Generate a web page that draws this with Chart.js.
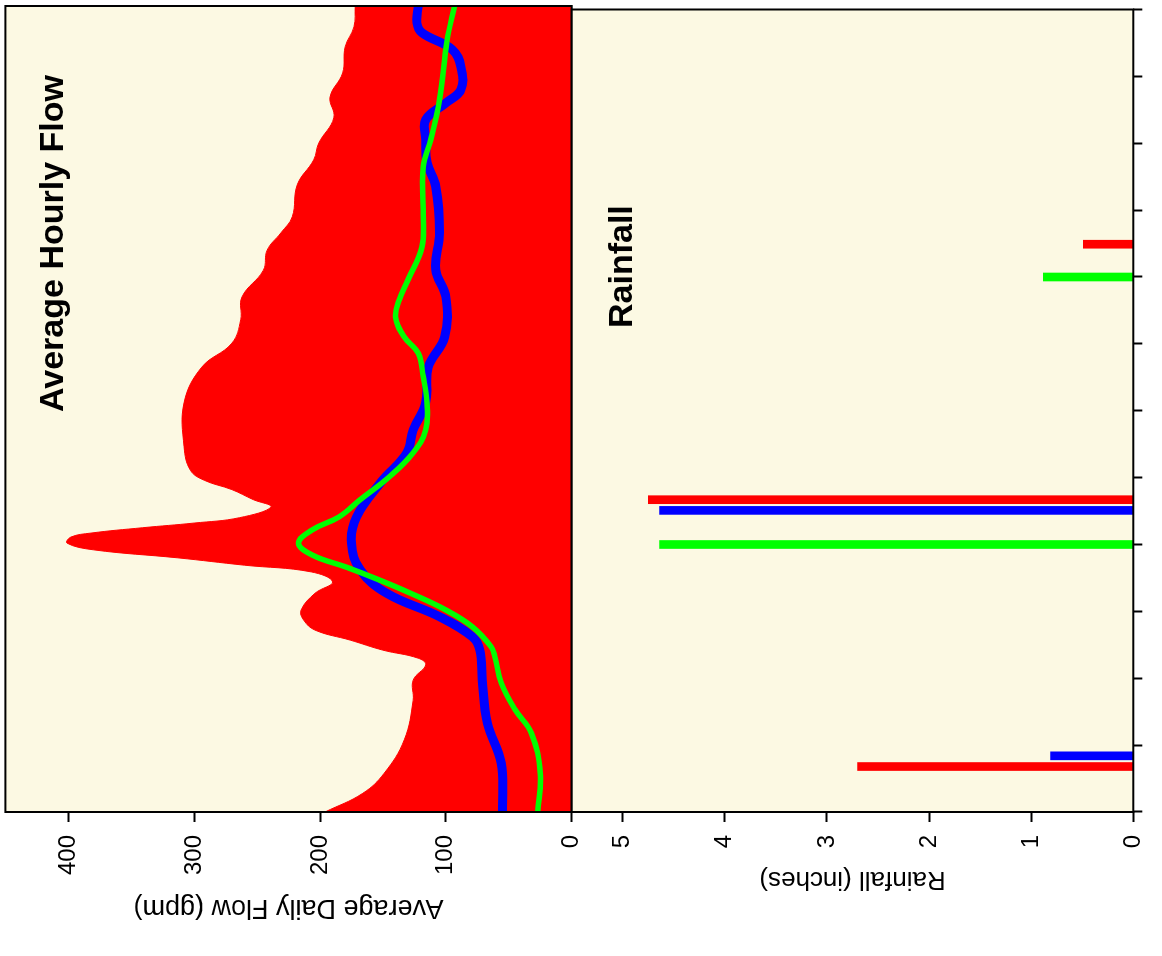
<!DOCTYPE html>
<html>
<head>
<meta charset="utf-8">
<script src="https://cdn.jsdelivr.net/npm/chart.js@4.4.1/dist/chart.umd.min.js"></script>
<style>
html,body{margin:0;padding:0;background:#ffffff;overflow:hidden;width:1162px;height:956px;}
#rot{position:absolute;left:0;top:0;width:956px;height:1162px;transform-origin:0 0;transform:translate(0px,956px) rotate(-90deg);}
#rot canvas{position:absolute;left:0;top:0;}
</style>
</head>
<body>
<div id="rot">
  <canvas id="flow" width="956" height="1162"></canvas>
  <canvas id="rain" width="956" height="1162"></canvas>
</div>
<script>
// ---------- tick values ----------
const timeTickValues = [0,1,2,3,4,5,6,7,8,9,10,11,12];
const flowTickValues = [0,100,200,300,400];
const rainTickValues = [0,1,2,3,4,5];

// ---------- average hourly flow (red area) ----------
const hourlyTime = [0.00,0.28,0.58,1.08,1.67,1.97,2.20,2.30,2.42,2.57,2.72,2.87,3.02,3.27,3.44,3.59,3.69,3.80,3.92,4.02,4.11,4.17,4.25,4.32,4.40,4.56,4.67,4.82,4.96,5.11,5.46,6.12,6.65,7.01,7.36,7.70,8.10,8.40,8.66,8.90,9.38,9.75,10.00,10.38,10.69,11.05,11.44,11.74,12.05];
const hourlyFlow = [196,166,149,133,126,126,116,122,150,176,204,213,215,204,190,207,260,313,380,401,398,382,341,300,264,239,253,270,292,303,308,308,294,270,263,262,245,242,231,222,218,205,201,189,192,182,180,173,172];

// ---------- green series ----------
const greenTime = [0.00,0.58,1.18,1.53,1.93,2.32,2.47,2.77,3.02,3.27,3.47,3.66,3.84,4.02,4.22,4.41,4.67,5.01,5.37,5.71,6.12,6.51,6.86,7.10,7.40,7.66,7.96,8.45,8.96,9.65,10.05,10.65,11.54,12.05];
const greenFlow = [27,25,32,45,56,61,64,79,100,128,153,179,206,217,206,185,168,145,126,116,115,118,122,133,140,137,130,119,118,118,112,105,99,93];

// ---------- blue series ----------
const blueTime = [0.00,0.73,1.33,1.97,2.42,2.62,2.92,3.27,3.62,4.02,4.41,4.92,5.37,5.71,6.12,6.65,7.10,7.70,8.11,8.66,9.35,9.71,10.05,10.35,10.60,10.80,11.14,11.40,11.65,11.80,12.05];
const blueFlow = [55,56,67,71,73,79,105,147,168,175,171,152,131,126,116,114,101,100,108,105,108,115,116,116,100,88,88,95,119,123,122];

// ---------- rainfall ----------
const rainRedTime = [0.68,4.67,8.49];
const rainRed = [2.70,4.75,0.49];
const rainBlueTime = [0.84,4.51];
const rainBlue = [0.81,4.64];
const rainGreenTime = [4.00,8.00];
const rainGreen = [4.64,0.88];

const pts = (xs, ys) => xs.map((x, i) => ({x: x, y: ys[i]}));
const FONT = "'Liberation Sans', Arial, Helvetica, sans-serif";
Chart.defaults.font.family = FONT;
Chart.defaults.color = '#000000';

const panelPlugin = {
  id: 'panel',
  beforeDraw(chart, args, opts) {
    const a = chart.chartArea, ctx = chart.ctx;
    ctx.save();
    ctx.fillStyle = opts.fill;
    ctx.fillRect(a.left, a.top, a.right - a.left, a.bottom - a.top);
    ctx.restore();
  },
  afterDraw(chart, args, opts) {
    const a = chart.chartArea, ctx = chart.ctx;
    ctx.save();
    ctx.strokeStyle = '#000000';
    ctx.lineWidth = 2;
    ctx.strokeRect(a.left, a.top, a.right - a.left, a.bottom - a.top);
    if (opts.text) {
      ctx.font = opts.font;
      ctx.fillStyle = '#000000';
      ctx.textAlign = 'left';
      ctx.textBaseline = 'alphabetic';
      ctx.fillText(opts.text, a.left + opts.dx, a.top + opts.dy);
    }
    ctx.restore();
  }
};

const CREAM = '#FCF9E3';
const tickFont = {family: FONT, size: 24};
const TENSION = 0.4;

new Chart(document.getElementById('flow'), {
  type: 'line',
  data: {
    datasets: [
      {label: 'Green', data: pts(greenTime, greenFlow), borderColor: '#00FF00', borderWidth: 5.5, pointRadius: 0, fill: false, tension: TENSION, borderCapStyle: 'round', borderJoinStyle: 'round', clip: 0},
      {label: 'Blue', data: pts(blueTime, blueFlow), borderColor: '#0000FF', borderWidth: 9, pointRadius: 0, fill: false, tension: TENSION, borderCapStyle: 'round', borderJoinStyle: 'round', clip: 0},
      {label: 'Average Hourly Flow', data: pts(hourlyTime, hourlyFlow), borderColor: '#FF0000', backgroundColor: '#FF0000', borderWidth: 1, pointRadius: 0, fill: 'origin', tension: TENSION, clip: 0}
    ]
  },
  options: {
    responsive: false,
    animation: false,
    devicePixelRatio: 1,
    layout: {padding: {left: 32, right: 6, top: 5.4, bottom: 590.3}},
    plugins: {
      legend: {display: false},
      tooltip: {enabled: false},
      panel: {fill: CREAM, text: 'Average Hourly Flow', font: "bold 34px " + FONT, dx: 400, dy: 57.6}
    },
    scales: {
      x: {type: 'linear', min: 0, max: 12.05, display: false},
      y: {
        type: 'linear', min: 0, max: 450, position: 'left',
        afterBuildTicks: s => { s.ticks = flowTickValues.map(v => ({value: v})); },
        afterFit: s => { s.width = 112; s.paddingTop = 0; s.paddingBottom = 0; },
        grid: {drawOnChartArea: false, drawTicks: true, tickLength: 10, tickColor: '#000000', tickWidth: 2},
        border: {display: false},
        ticks: {color: '#000000', font: tickFont, padding: 13},
        title: {display: true, text: 'Average Daily Flow (gpm)', color: '#000000', font: {family: FONT, size: 27}, padding: 0}
      }
    }
  },
  plugins: [panelPlugin]
});

new Chart(document.getElementById('rain'), {
  type: 'bar',
  data: {
    datasets: [
      {label: 'Red', data: pts(rainRedTime, rainRed), backgroundColor: '#FF0000', borderWidth: 0},
      {label: 'Blue', data: pts(rainBlueTime, rainBlue), backgroundColor: '#0000FF', borderWidth: 0},
      {label: 'Green', data: pts(rainGreenTime, rainGreen), backgroundColor: '#00FF00', borderWidth: 0}
    ]
  },
  options: {
    responsive: false,
    animation: false,
    devicePixelRatio: 1,
    grouped: false,
    maxBarThickness: 8,
    categoryPercentage: 1,
    barPercentage: 1,
    layout: {padding: {left: 61.4, right: 9.5, top: 571.7, bottom: 8.7}},
    plugins: {
      legend: {display: false},
      tooltip: {enabled: false},
      panel: {fill: CREAM, text: 'Rainfall', font: "bold 34px " + FONT, dx: 484, dy: 60.3}
    },
    scales: {
      x: {
        type: 'linear', min: 0, max: 12, position: 'bottom', offset: false,
        afterBuildTicks: s => { s.ticks = timeTickValues.map(v => ({value: v})); },
        afterFit: s => { s.height = 20; s.paddingLeft = 0; s.paddingRight = 0; },
        grid: {drawOnChartArea: false, drawTicks: true, tickLength: 9, tickColor: '#000000', tickWidth: 2, offset: false},
        border: {display: false},
        ticks: {display: false}
      },
      y: {
        type: 'linear', min: 0, max: 5.5, position: 'left',
        afterBuildTicks: s => { s.ticks = rainTickValues.map(v => ({value: v})); },
        afterFit: s => { s.width = 82.6; s.paddingTop = 0; s.paddingBottom = 0; },
        grid: {drawOnChartArea: false, drawTicks: true, tickLength: 10, tickColor: '#000000', tickWidth: 2},
        border: {display: false},
        ticks: {color: '#000000', font: tickFont, padding: 13},
        title: {display: true, text: 'Rainfall (inches)', color: '#000000', font: {family: FONT, size: 26}, padding: 0}
      }
    }
  },
  plugins: [panelPlugin]
});
</script>
</body>
</html>
